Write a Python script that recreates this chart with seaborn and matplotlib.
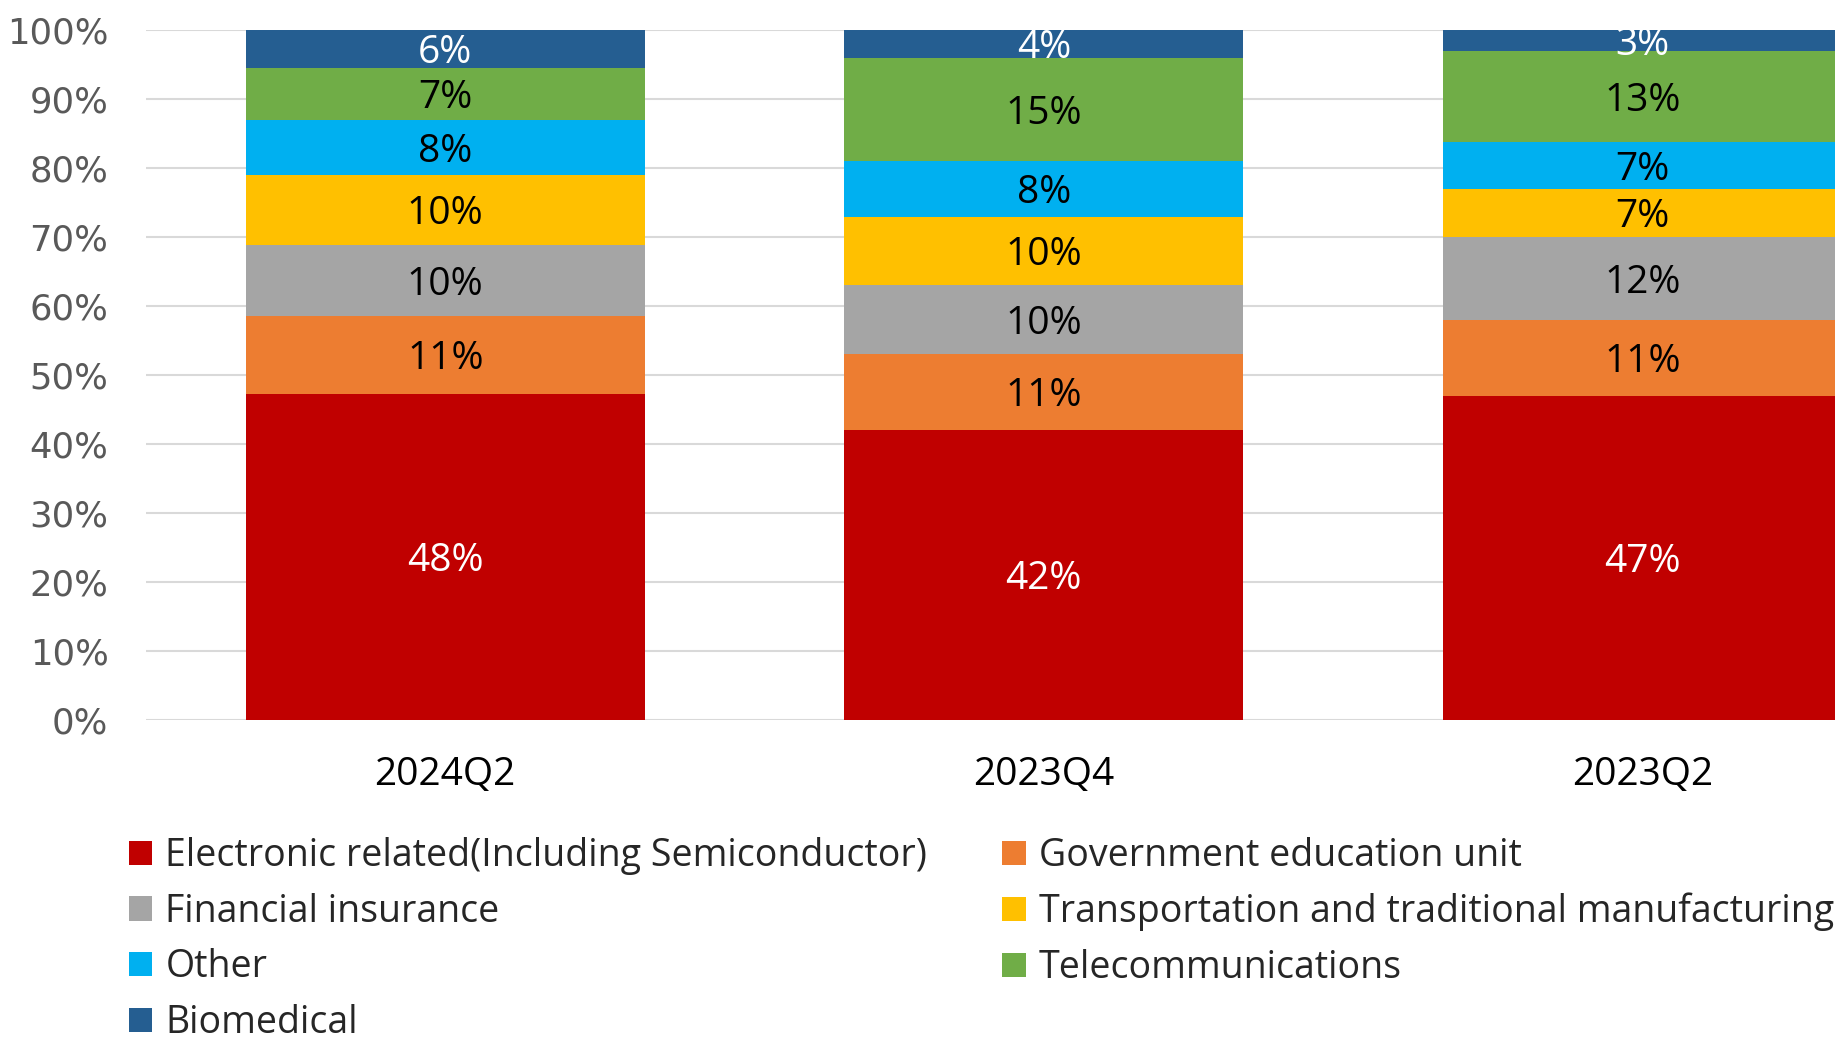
import numpy as np
import pandas as pd
import seaborn as sns
import matplotlib.pyplot as plt
from matplotlib.patches import Patch

# data (share of each sector, %)
quarters = ['2024Q2', '2023Q4', '2023Q2']
sectors = ['Electronic related(Including Semiconductor)', 'Government education unit',
           'Financial insurance', 'Transportation and traditional manufacturing',
           'Other', 'Telecommunications', 'Biomedical']
electronic = [47.3, 42.0, 47.0]
government = [11.3, 11.0, 11.0]
financial = [10.2, 10.0, 12.0]
transport = [10.2, 9.9, 6.9]
other = [8.0, 8.1, 6.9]
telecom = [7.45, 15.0, 13.2]
biomedical = [5.55, 4.0, 3.0]
# labels as printed on the chart
label_text = [
    ['48%', '42%', '47%'],
    ['11%', '11%', '11%'],
    ['10%', '10%', '12%'],
    ['10%', '10%', '7%'],
    ['8%', '8%', '7%'],
    ['7%', '15%', '13%'],
    ['6%', '4%', '3%'],
]
colors = ['#C00000', '#ED7D31', '#A5A5A5', '#FFC000', '#00B0F0', '#70AD47', '#255E91']
label_colors = ['white', 'black', 'black', 'black', 'black', 'black', 'white']

sns.set_theme(style='white')
plt.rcParams['font.family'] = ['Open Sans', 'DejaVu Sans']

values = np.array([electronic, government, financial, transport, other, telecom, biomedical])
tops = values.cumsum(axis=0)

fig = plt.figure(figsize=(18.35, 10.39), dpi=100)
ax = fig.add_axes([146 / 1835, 0.307, 1795.5 / 1835, 0.664])

# stack by drawing cumulative totals from the top layer down
for i in range(len(sectors) - 1, -1, -1):
    df = pd.DataFrame({'quarter': quarters, 'top': tops[i]})
    sns.barplot(data=df, x='quarter', y='top', order=quarters, color=colors[i],
                saturation=1, width=0.667, linewidth=0, ax=ax, zorder=2)

for i in range(len(sectors)):
    for j in range(len(quarters)):
        mid = tops[i][j] - values[i][j] / 2
        ax.annotate(label_text[i][j], (j, mid), xytext=(0, -3), textcoords='offset points',
                    ha='center', va='center', color=label_colors[i], fontsize=28, zorder=3)

ax.set_ylim(0, 100)
ax.set_xlim(-0.5, 2.5)
ax.set_yticks(range(0, 101, 10))
ax.set_yticklabels([f'{v}%' for v in range(0, 101, 10)], family='DejaVu Sans',
                   fontsize=25.5, color='#595959')
ax.tick_params(axis='y', pad=27, length=0)
ax.tick_params(axis='x', pad=26, length=0, labelsize=28, labelcolor='black')
ax.set_xlabel('')
ax.set_ylabel('')
ax.grid(axis='y', color='#D9D9D9', linewidth=1.5, zorder=0)
ax.set_axisbelow(True)
for s in ax.spines.values():
    s.set_visible(False)

# legend filled column-wise to match the row-wise look of the original
order = [0, 2, 4, 6, 1, 3, 5]
handles = [Patch(facecolor=colors[k], edgecolor='none') for k in order]
fig.legend(handles, [sectors[k] for k in order], ncol=2, loc='upper left',
           bbox_to_anchor=(129 / 1835, 1 - 837 / 1039), frameon=False,
           fontsize=27, handlelength=0.62, handleheight=0.62, handletextpad=0.35,
           labelspacing=0.47, columnspacing=2.0, borderpad=0, borderaxespad=0)

fig.savefig('out.png', dpi=100)
